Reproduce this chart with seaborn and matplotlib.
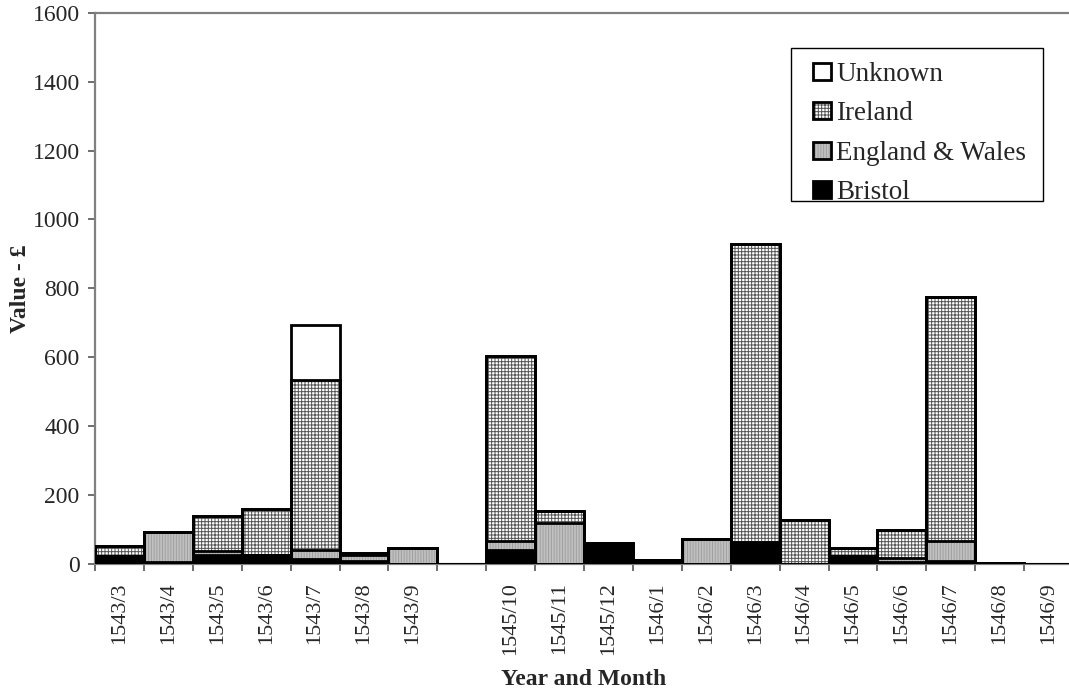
import numpy as np
import pandas as pd
import matplotlib
matplotlib.use("Agg")
import matplotlib.pyplot as plt
from matplotlib.patches import Patch, Rectangle
from matplotlib.legend_handler import HandlerTuple
import seaborn as sns

# Customs values by origin of the ship, per month (pounds)
months = ["1543/3", "1543/4", "1543/5", "1543/6", "1543/7", "1543/8", "1543/9", " ",
          "1545/10", "1545/11", "1545/12", "1546/1", "1546/2", "1546/3", "1546/4",
          "1546/5", "1546/6", "1546/7", "1546/8", "1546/9"]
bristol = [22, 5, 27, 25, 15, 10, 0, 0, 42, 0, 60, 12, 0, 58, 0, 24, 6, 8, 0, 0]
england_wales = [0, 87, 10, 0, 25, 16, 45, 0, 24, 118, 0, 0, 73, 7, 0, 0, 12, 60, 3, 0]
ireland = [30, 0, 101, 134, 493, 5, 0, 0, 538, 35, 0, 0, 0, 864, 128, 22, 80, 707, 0, 0]
unknown = [0, 0, 0, 0, 160, 0, 0, 0, 0, 0, 0, 0, 0, 0, 0, 0, 0, 0, 0, 0]

series_names = ["Bristol", "England & Wales", "Ireland", "Unknown"]
y_ticks = [0, 200, 400, 600, 800, 1000, 1200, 1400, 1600]

sns.set_theme(style="white")
plt.rcParams["font.family"] = ["Liberation Serif", "DejaVu Serif"]
plt.rcParams["hatch.linewidth"] = 0.7

# fill colour, hatch pattern and hatch colour for each series
styles = {
    "Bristol": ("black", None, "black"),
    "England & Wales": ("#c0c0c0", "||||||", "#a0a0a0"),
    "Ireland": ("white", "+++++", "#555555"),
    "Unknown": ("white", None, "white"),
}

df = pd.DataFrame({
    "month": months,
    "Bristol": bristol,
    "England & Wales": england_wales,
    "Ireland": ireland,
    "Unknown": unknown,
})
cum = df[series_names].cumsum(axis=1)

W, H = 1069, 693
fig = plt.figure(figsize=(W / 100, H / 100), dpi=100)
ax = fig.add_axes([95 / W, 1 - 564 / H, (1073 - 95) / W, (564 - 12.7) / H])


def draw_layer(values, zorder, fc, hatch, hc, outline):
    before = len(ax.patches)
    sns.barplot(x=df["month"], y=values, order=months, width=1.0,
                errorbar=None, ax=ax, color=fc)
    for p in ax.patches[before:]:
        p.set_zorder(zorder)
        if outline:
            p.set_facecolor("none")
            p.set_edgecolor("black")
            p.set_linewidth(2.0)
            p.set_hatch(None)
        else:
            p.set_facecolor(fc)
            p.set_edgecolor(hc)
            p.set_linewidth(0)
            p.set_hatch(hatch)


# stacked fills: draw cumulative totals from the top series down
for i, name in enumerate(reversed(series_names)):
    fc, hatch, hc = styles[name]
    draw_layer(cum[name], 2 + i, fc, hatch, hc, outline=False)
# black outlines for every segment
for name in series_names:
    draw_layer(cum[name], 10, "black", None, "black", outline=True)

ax.set_xlim(-0.5, len(months) - 0.5)
ax.set_ylim(0, 1600)
ax.set_yticks(y_ticks)
ax.set_yticklabels([str(v) for v in y_ticks], fontsize=17)
ax.set_xticks(range(len(months)))
ax.set_xticklabels([m.strip() for m in months], rotation=90, fontsize=16)
ax.set_xticks(np.arange(-0.5, len(months), 1.0), minor=True)
ax.tick_params(axis="x", which="major", length=0, pad=13)
ax.tick_params(axis="x", which="minor", length=5, width=1.2, color="#555555", direction="out", bottom=True)
ax.tick_params(axis="y", which="major", length=5, width=1.2, color="#555555", direction="out", left=True, pad=6)

for side in ["left", "top", "bottom"]:
    ax.spines[side].set_color("#808080")
    ax.spines[side].set_linewidth(1.6)
ax.spines["right"].set_visible(False)
ax.grid(False)

ax.set_xlabel("Year and Month", fontsize=17, fontweight="bold", labelpad=10)
ax.set_ylabel("Value - £", fontsize=17, fontweight="bold", labelpad=1)

handles = []
for name in reversed(series_names):
    fc, hatch, hc = styles[name]
    fill = Patch(facecolor=fc, edgecolor=hc, hatch=hatch, linewidth=0)
    edge = Patch(facecolor="none", edgecolor="black", linewidth=2.0)
    handles.append((fill, edge))

leg = ax.legend(handles, list(reversed(series_names)),
                handler_map={tuple: HandlerTuple(ndivide=1, pad=0)},
                loc="upper left", bbox_to_anchor=(813 / W, 1 - 62 / H),
                bbox_transform=fig.transFigure, borderaxespad=0, borderpad=0,
                fontsize=19.5, frameon=False, handlelength=0.65, handleheight=0.6,
                handletextpad=0.2, labelspacing=0.53)
leg.set_zorder(20)

# legend frame
fig.add_artist(Rectangle((791 / W, 1 - 201 / H), 252 / W, 153 / H,
                         transform=fig.transFigure, facecolor="none",
                         edgecolor="black", linewidth=1.0))

fig.savefig("out.png", dpi=100)
